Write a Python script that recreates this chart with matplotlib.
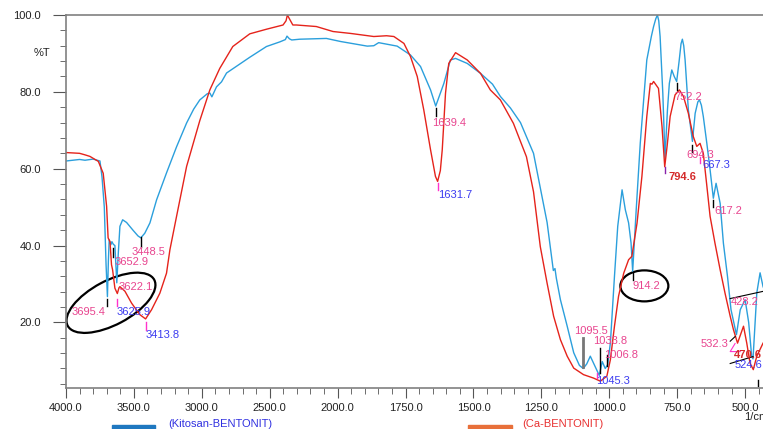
import numpy as np
import matplotlib
matplotlib.use('Agg')
import matplotlib.pyplot as plt
from matplotlib.patches import Ellipse, Rectangle
from matplotlib import transforms

plt.rcParams['font.family'] = ['Liberation Sans', 'DejaVu Sans']
plt.rcParams['font.size'] = 8

# spektrum Kitosan-BENTONIT (biru)
kit_wn = [4000, 3900, 3860, 3800, 3750, 3735, 3718, 3705, 3695, 3688, 3682, 3670, 3662, 3651,
          3640, 3626, 3615, 3603, 3583, 3554, 3507, 3470, 3449, 3420, 3382, 3333, 3260, 3186,
          3112, 3060, 3015, 2960, 2941, 2926, 2892, 2855, 2818, 2772, 2647, 2524, 2426, 2385,
          2373, 2355, 2338, 2279, 2083, 1989, 1891, 1867, 1849, 1781, 1732, 1695, 1658, 1639,
          1609, 1585, 1566, 1523, 1474, 1430, 1401, 1364, 1327, 1279, 1254, 1229, 1206, 1200,
          1195, 1180, 1155, 1131, 1110, 1096, 1083, 1070, 1052, 1037, 1026, 1015, 1006, 996,
          981, 969, 953, 941, 929, 920, 914, 901, 886, 862, 845, 837, 829, 823, 818, 813, 803,
          795, 786, 779, 770, 761, 752, 743, 736, 731, 726, 721, 709, 694, 684, 674, 668, 661,
          654, 641, 629, 617, 607, 592, 580, 565, 552, 532, 518, 500, 487, 476, 471, 457, 445,
          434, 420, 400]
kit_t = [62.0, 62.4, 62.2, 62.5, 62.0, 57.9, 50.0, 35.0, 26.7, 36.0, 41.5, 40.2, 41.0, 40.3,
         40.0, 30.3, 38.0, 45.0, 46.7, 46.0, 44.0, 42.5, 42.0, 43.2, 45.9, 51.9, 58.9, 65.7,
         71.9, 75.5, 77.9, 79.5, 79.7, 78.7, 81.3, 82.6, 84.9, 86.0, 89.0, 91.8, 93.0, 93.6,
         94.5, 93.8, 93.5, 93.7, 93.9, 93.1, 91.9, 92.0, 92.8, 91.9, 89.6, 86.6, 80.5, 76.3,
         82.2, 88.3, 88.7, 87.4, 84.8, 82.0, 78.8, 75.8, 72.0, 64.0, 55.0, 46.0, 33.5, 34.0,
         31.5, 25.9, 19.0, 12.1, 8.8, 8.0, 9.2, 11.2, 8.5, 6.2, 9.8, 8.0, 9.0, 14.7,
         32.0, 45.0, 54.5, 49.3, 45.9, 40.7, 33.3, 49.3, 66.7, 88.3, 94.5, 97.0, 99.0, 100.0,
         98.5, 94.4, 79.6, 62.7, 75.3, 82.2, 85.7, 84.0, 82.7, 88.0, 92.5, 93.7, 92.0, 88.3,
         75.3, 67.1, 74.4, 77.4, 77.9, 76.5, 73.6, 66.6, 59.7, 52.3, 56.2, 51.0, 40.6, 32.0,
         23.3, 16.8, 23.3, 25.9, 20.0, 11.2, 10.5, 27.7, 32.9, 29.3, 27.0, 30.0]

# spektrum Ca-BENTONIT (merah)
ca_wn = [4000, 3900, 3860, 3824, 3762, 3726, 3701, 3690, 3676, 3665, 3657, 3640, 3622, 3610,
         3603, 3566, 3517, 3456, 3414, 3370, 3309, 3260, 3235, 3186, 3112, 3015, 2941, 2868,
         2772, 2647, 2524, 2402, 2380, 2370, 2355, 2330, 2304, 2157, 2034, 1952, 1867, 1820,
         1793, 1756, 1732, 1707, 1683, 1658, 1640, 1632, 1622, 1615, 1603, 1591, 1566, 1523,
         1474, 1438, 1401, 1353, 1305, 1279, 1254, 1229, 1205, 1180, 1155, 1131, 1095, 1058,
         1033, 1009, 996, 981, 966, 947, 929, 917, 898, 880, 862, 849, 843, 837, 819, 806, 796,
         787, 776, 758, 742, 727, 709, 691, 678, 666, 654, 642, 629, 611, 592, 574, 555, 543,
         528, 506, 494, 482, 470, 457, 434, 400]
ca_t = [64.2, 64.0, 63.6, 63.2, 61.9, 58.8, 50.2, 42.0, 41.0, 35.0, 33.7, 28.9, 27.5, 29.0,
        29.3, 28.1, 25.0, 22.0, 20.9, 23.3, 27.6, 32.8, 38.9, 47.6, 60.6, 72.5, 80.5, 86.1,
        91.8, 95.1, 96.3, 97.4, 98.5, 100.0, 99.0, 97.4, 97.4, 97.0, 95.7, 95.2, 94.4, 94.6,
        94.4, 92.6, 89.2, 84.0, 75.3, 64.9, 58.0, 56.7, 59.5, 64.9, 79.6, 87.4, 90.2, 88.3,
        84.8, 80.5, 77.9, 71.8, 63.1, 54.0, 39.7, 30.2, 21.6, 15.5, 11.2, 8.1, 6.4, 5.5,
        4.7, 6.0, 10.3, 19.0, 26.8, 32.8, 36.3, 37.2, 45.8, 58.0, 73.6, 82.2, 82.0, 82.7,
        80.9, 71.0, 60.5, 66.0, 73.6, 79.2, 80.5, 78.8, 74.4, 68.4, 65.8, 66.6, 64.0, 56.2,
        47.6, 40.6, 33.7, 27.6, 21.6, 18.1, 14.6, 19.0, 14.6, 9.4, 7.7, 11.2, 14.6, 18.0]

xticks = [4000, 3500, 3000, 2500, 2000, 1750, 1500, 1250, 1000, 750, 500]
yticks = [20, 40, 60, 80, 100]

pink = '#e8458f'
lblue = '#3c3cf0'
bred = '#d42a2a'
mag = '#ff33cc'

# label puncak: teks, posisi, warna, tebal
peak_labels = [
    ('3448.5', 3390, 38.4, pink, 'normal'),
    ('3652.9', 3515, 35.8, pink, 'normal'),
    ('3622.1', 3485, 29.3, pink, 'normal'),
    ('3695.4', 3832, 22.8, pink, 'normal'),
    ('3625.9', 3500, 22.8, lblue, 'normal'),
    ('3413.8', 3287, 16.8, lblue, 'normal'),
    ('1639.4', 1588, 71.9, pink, 'normal'),
    ('1631.7', 1566, 53.2, lblue, 'normal'),
    ('914.2', 864, 29.5, pink, 'normal'),
    ('1095.5', 1066, 17.8, pink, 'normal'),
    ('1033.8', 996, 15.2, pink, 'normal'),
    ('1006.8', 956, 11.6, pink, 'normal'),
    ('1045.3', 985, 4.8, lblue, 'normal'),
    ('752.2', 710, 78.7, pink, 'normal'),
    ('794.6', 732, 57.9, bred, 'bold'),
    ('694.3', 666, 63.6, pink, 'normal'),
    ('667.3', 607, 61.0, lblue, 'normal'),
    ('617.2', 563, 49.0, pink, 'normal'),
    ('428.2', 500, 25.4, pink, 'normal'),
    ('532.3', 614, 14.5, pink, 'normal'),
    ('470.6', 489, 11.6, bred, 'bold'),
    ('524.6', 489, 9.0, lblue, 'normal'),
]

# garis penanda puncak
peak_marks = [
    (3448.5, 42.3, 39.7, 'black', 1), (3652.9, 39.4, 37.1, 'black', 1),
    (3695.4, 26.2, 24.3, 'black', 1), (3625.9, 26.2, 24.3, mag, 1),
    (3413.8, 20.2, 18.1, mag, 1), (1639.4, 75.8, 73.7, 'black', 1),
    (1631.7, 56.3, 54.5, mag, 1), (914.2, 33.2, 31.1, 'black', 1),
    (1095.5, 16.0, 8.5, '#777777', 2), (1033.8, 13.4, 6.9, 'black', 1),
    (1006.8, 11.6, 8.7, 'black', 1), (1045.3, 6.9, 5.6, mag, 1),
    (752.2, 82.3, 80.5, 'black', 1), (794.6, 60.5, 58.9, '#8822aa', 1),
    (694.3, 66.2, 64.4, 'black', 1), (667.3, 63.1, 61.5, mag, 1),
    (617.2, 51.9, 50.1, 'black', 1), (452, 5.1, 3.5, 'black', 1),
]


def fwd(x):
    x = np.asarray(x, float)
    return np.where(x > 2000, 2000 + (x - 2000) / 2, x)


def inv(u):
    u = np.asarray(u, float)
    return np.where(u > 2000, 2000 + (u - 2000) * 2, u)


fig = plt.figure(figsize=(7.63, 4.29), dpi=100)
ax = fig.add_axes([66 / 763, 41.3 / 429, 706.3 / 763, 372.7 / 429])
ax.set_xscale('function', functions=(fwd, inv))

ax.plot(kit_wn, kit_t, color='#2b9fdc', lw=1.0)
ax.plot(ca_wn, ca_t, color='#e5231b', lw=1.0)

ax.set_xlim(4000, 400)
ax.set_ylim(3.0, 100)

ax.set_xticks(xticks)
ax.set_xticklabels(['%.1f' % v for v in xticks])
ax.set_xticks(list(range(2100, 4000, 100)) + list(range(450, 2000, 50)), minor=True)
ax.set_yticks(yticks)
ax.set_yticklabels(['%.1f' % v for v in yticks])
ax.set_yticks(list(range(4, 100, 4)), minor=True)

ax.tick_params(axis='x', which='major', length=7.5, pad=3.5, color='#555555', labelcolor='#222222')
ax.tick_params(axis='x', which='minor', length=4, color='#555555')
ax.tick_params(axis='y', which='major', length=9.5, pad=8.5, color='#555555', labelcolor='#222222')
ax.tick_params(axis='y', which='minor', length=4, color='#555555')

ax.spines['right'].set_visible(False)
for s in ['left', 'top', 'bottom']:
    ax.spines[s].set_color('#808080')
    ax.spines[s].set_linewidth(1.2)

for txt, x, y, c, w in peak_labels:
    ax.text(x, y, txt, color=c, fontweight=w, ha='center', va='center')

for x, y1, y2, c, w in peak_marks:
    ax.plot([x, x], [y1, y2], color=c, lw=w)

ax.plot([555, 400], [26.2, 28.6], color='black', lw=0.8)
ax.plot([555, 537], [15.1, 16.3], color='black', lw=0.8)
ax.plot([555, 471], [9.3, 11.1], color='black', lw=0.8)
ax.plot([537, 555, 518], [14.5, 12.4, 12.4], color=mag, lw=0.8)


def ring(x, y, w, h, ang):
    tr = fig.dpi_scale_trans + transforms.ScaledTranslation(x, y, ax.transData)
    e = Ellipse((0, 0), w / 100, h / 100, angle=ang, fill=False, ec='black', lw=1.6,
                transform=tr, clip_on=False)
    ax.add_artist(e)


ring(3669, 25.1, 98, 44, 28)
ring(871, 29.5, 48, 31, 0)

fig.text(50 / 763, 1 - 53 / 429, '%T', ha='right', va='center', color='#222222')
fig.text(744 / 763, 1 - 417 / 429, '1/cm', ha='left', va='center', color='#222222')

# legenda di bawah
fig.patches.append(Rectangle((112 / 763, -0.02), 43 / 763, 0.029, transform=fig.transFigure,
                             color='#1f78c0', figure=fig))
fig.text(168 / 763, 1 - 424 / 429, '(Kitosan-BENTONIT)', color='#3030e0', ha='left', va='center')
fig.patches.append(Rectangle((468 / 763, -0.02), 44 / 763, 0.029, transform=fig.transFigure,
                             color='#e8703a', figure=fig))
fig.text(522 / 763, 1 - 424 / 429, '(Ca-BENTONIT)', color='#e83030', ha='left', va='center')

fig.savefig('out.png', dpi=100)
